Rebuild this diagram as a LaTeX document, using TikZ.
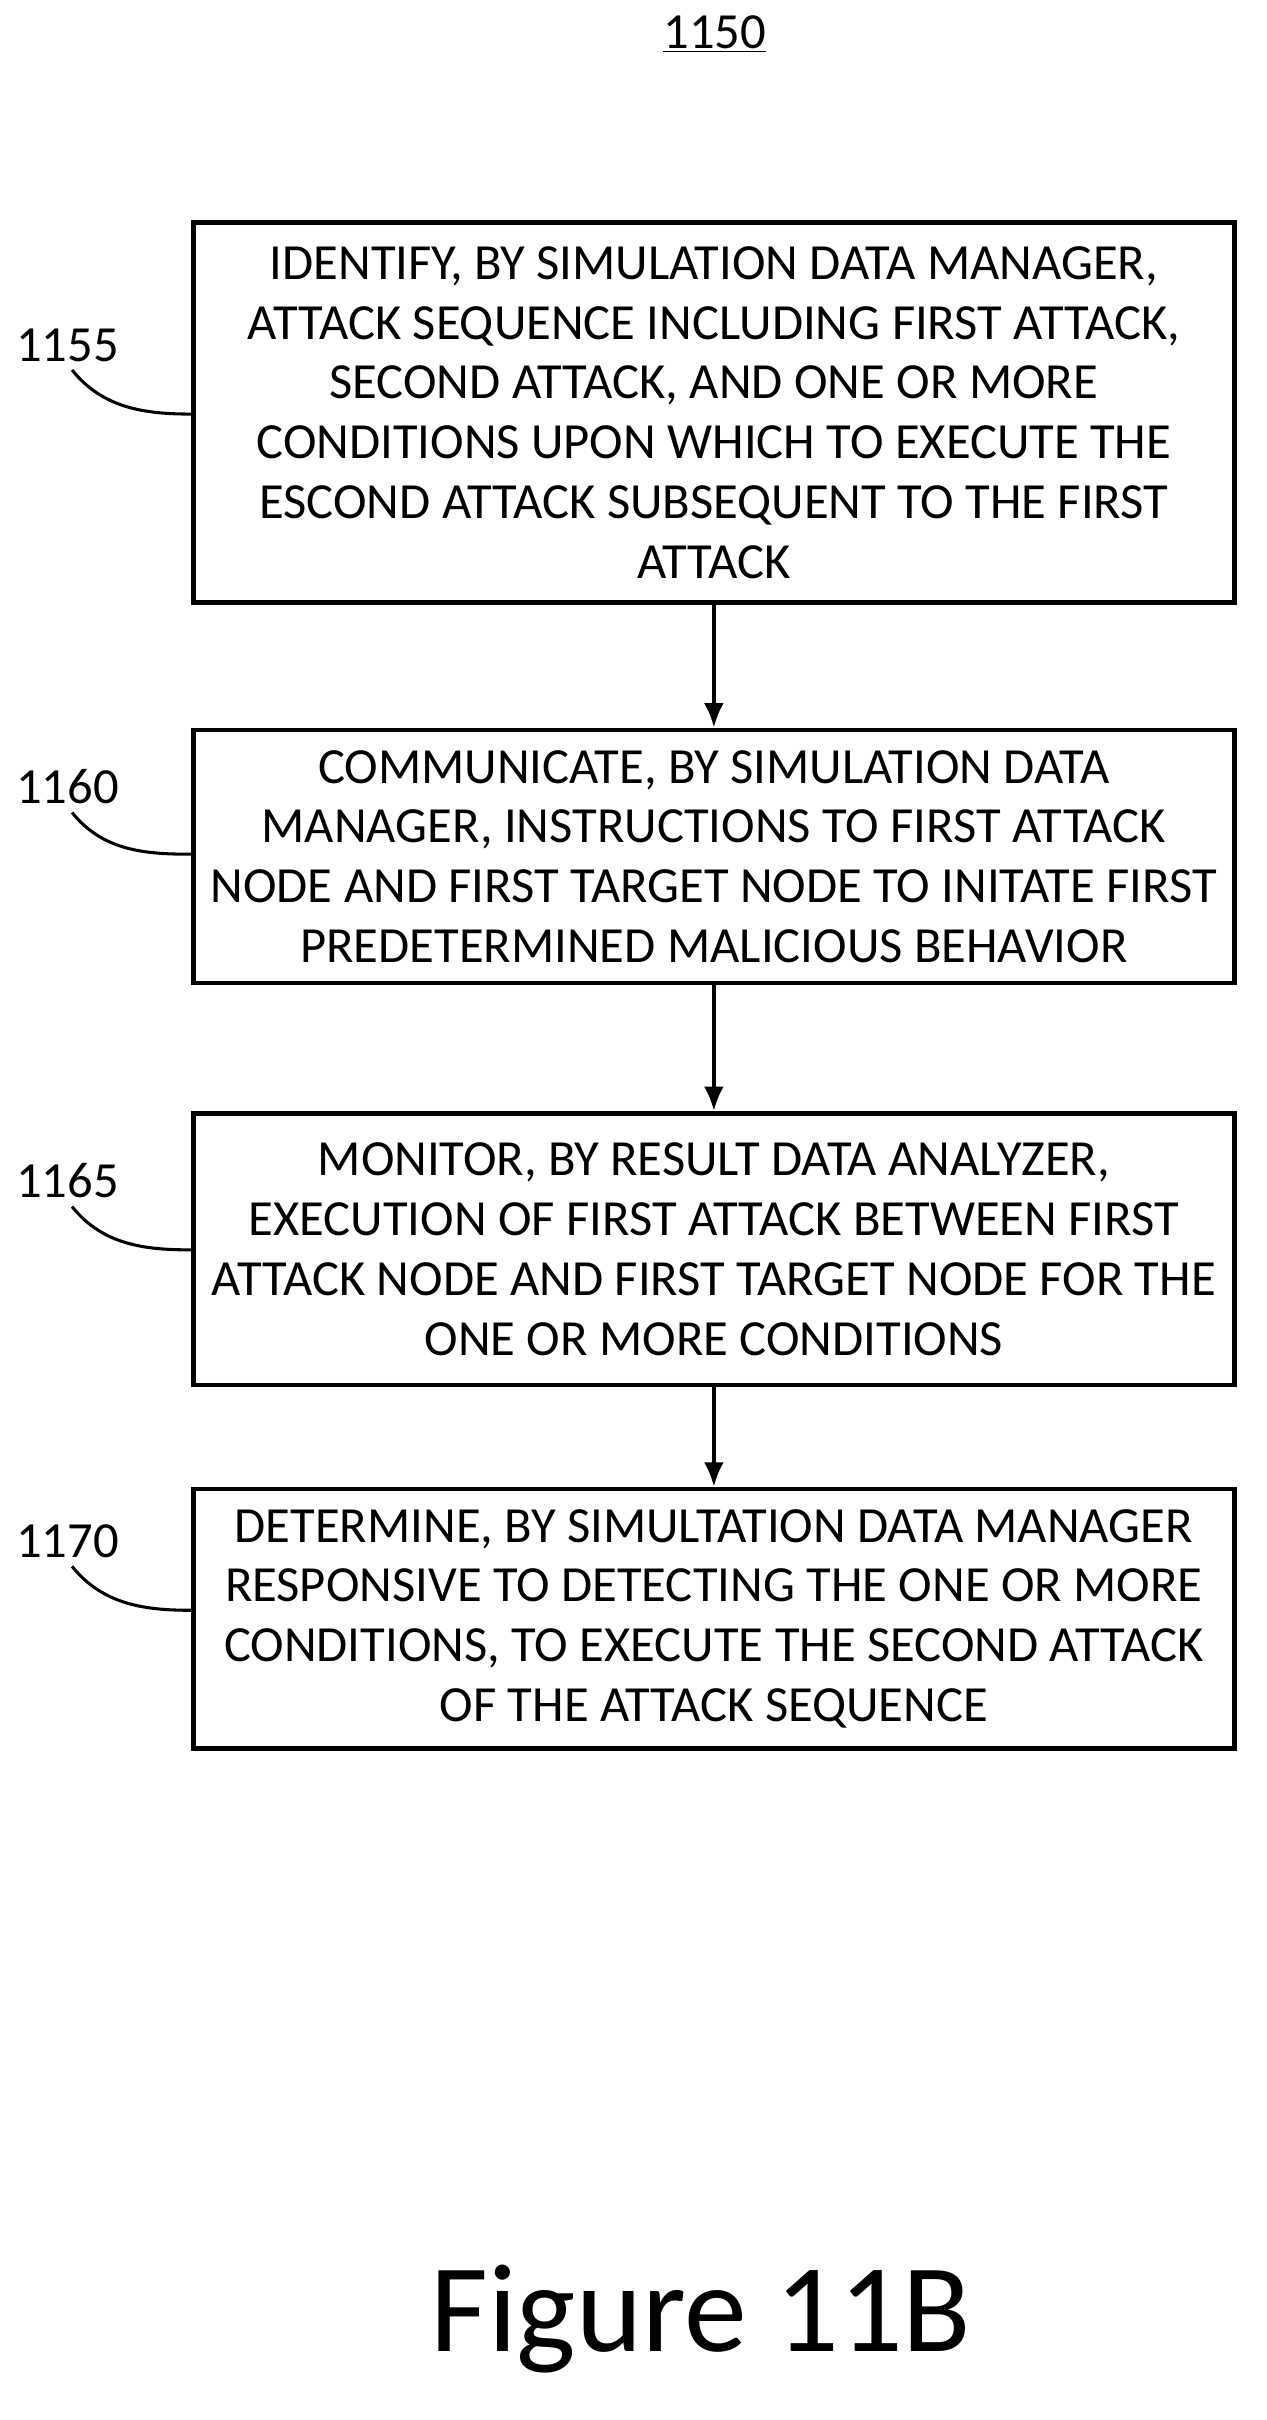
\documentclass[tikz,border=0pt]{standalone}
\usepackage{fontspec}
\usetikzlibrary{arrows.meta}
\setmainfont{Carlito}
\begin{document}
\begin{tikzpicture}[x=1pt,y=-1pt,
  box/.style={draw,line width=3pt,minimum width=679pt,align=center,font=\fontsize{33}{39}\selectfont,inner sep=0pt},
  lab/.style={font=\fontsize{33}{34}\selectfont},
  arr/.style={line width=2.6pt,-{Latex[length=16pt,width=13pt]}},
  lead/.style={line width=2pt}]
\useasboundingbox (0,0) rectangle (826,1578);
\node[font=\fontsize{33}{34}\selectfont] (t) at (466,22) {\underline{1150}};
\node[box,minimum height=248pt] (b1) at (465.5,269) {IDENTIFY, BY SIMULATION DATA MANAGER,\\ATTACK SEQUENCE INCLUDING FIRST ATTACK,\\SECOND ATTACK, AND ONE OR MORE\\CONDITIONS UPON WHICH TO EXECUTE THE\\ESCOND ATTACK SUBSEQUENT TO THE FIRST\\ATTACK};
\node[box,minimum height=165pt] (b2) at (465.5,558.5) {COMMUNICATE, BY SIMULATION DATA\\MANAGER, INSTRUCTIONS TO FIRST ATTACK\\NODE AND FIRST TARGET NODE TO INITATE FIRST\\PREDETERMINED MALICIOUS BEHAVIOR};
\node[box,minimum height=177pt] (b3) at (465.5,814.5) {MONITOR, BY RESULT DATA ANALYZER,\\EXECUTION OF FIRST ATTACK BETWEEN FIRST\\ATTACK NODE AND FIRST TARGET NODE FOR THE\\ONE OR MORE CONDITIONS};
\node[box,minimum height=169pt] (b4) at (465.5,1055.5) {DETERMINE, BY SIMULTATION DATA MANAGER\\RESPONSIVE TO DETECTING THE ONE OR MORE\\CONDITIONS, TO EXECUTE THE SECOND ATTACK\\OF THE ATTACK SEQUENCE};
\draw[arr] (b1) -- (b2);
\draw[arr] (b2) -- (b3);
\draw[arr] (b3) -- (b4);
\node[lab] (l1) at (44,225) {1155};
\node[lab] (l2) at (44,513) {1160};
\node[lab] (l3) at (44,770) {1165};
\node[lab] (l4) at (44,1005) {1170};
\draw[lead] (l1.south) ++(3,2) .. controls +(20,25) and +(-30,0) .. (b1.west |- 0,270);
\draw[lead] (l2.south) ++(3,2) .. controls +(20,25) and +(-30,0) .. (b2.west |- 0,557);
\draw[lead] (l3.south) ++(3,2) .. controls +(20,25) and +(-30,0) .. (b3.west |- 0,815);
\draw[lead] (l4.south) ++(3,2) .. controls +(20,25) and +(-30,0) .. (b4.west |- 0,1050);
\node[font=\fontsize{82}{90}\selectfont] (f) at (457,1512) {Figure 11B};
\end{tikzpicture}
\end{document}
